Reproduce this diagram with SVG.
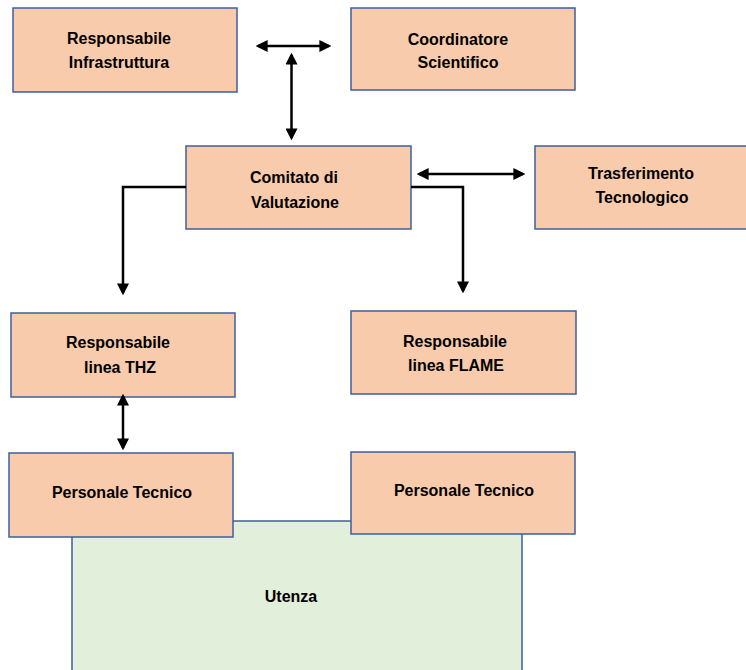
<svg xmlns="http://www.w3.org/2000/svg" width="746" height="670" viewBox="0 0 746 670">
<defs>
<style>
.box{fill:#F8CBAD;stroke:#3E5F9E;stroke-width:1.5}
.green{fill:#E2EFDA;stroke:#3E5F9E;stroke-width:1.5}
.t{font-family:"Liberation Sans",Arial,sans-serif;font-weight:bold;font-size:16px;fill:#000;text-anchor:middle}
.c{fill:none;stroke:#000;stroke-width:2.5}
</style>
<marker id="ah" markerUnits="userSpaceOnUse" markerWidth="12" markerHeight="12" viewBox="0 0 10 10" refX="8" refY="5" orient="auto-start-reverse">
<path d="M0,0 L10,5 L0,10 z" fill="#000"/>
</marker>
</defs>
<rect width="746" height="670" fill="#fff"/>
<g id="n-utenza">
<rect class="green" x="72" y="521" width="450" height="160"/>
<text class="t" x="291" y="602">Utenza</text>
</g>
<g id="n-resp-infra">
<rect class="box" x="13" y="8" width="224" height="84"/>
<text class="t" x="119" y="44">Responsabile</text>
<text class="t" x="119" y="68">Infrastruttura</text>
</g>
<g id="n-coord">
<rect class="box" x="351" y="8" width="224" height="82"/>
<text class="t" x="458" y="45">Coordinatore</text>
<text class="t" x="458" y="68">Scientifico</text>
</g>
<g id="n-comitato">
<rect class="box" x="186" y="146" width="225" height="83"/>
<text class="t" x="294" y="183">Comitato di</text>
<text class="t" x="295" y="208">Valutazione</text>
</g>
<g id="n-trasf">
<rect class="box" x="535" y="146" width="220" height="83"/>
<text class="t" x="641" y="179">Trasferimento</text>
<text class="t" x="642" y="203">Tecnologico</text>
</g>
<g id="n-thz">
<rect class="box" x="11" y="313" width="224" height="84"/>
<text class="t" x="118" y="348">Responsabile</text>
<text class="t" x="120" y="373">linea THZ</text>
</g>
<g id="n-flame">
<rect class="box" x="351" y="311" width="225" height="83"/>
<text class="t" x="455" y="347">Responsabile</text>
<text class="t" x="456" y="371">linea FLAME</text>
</g>
<g id="n-pers-left">
<rect class="box" x="9" y="453" width="224" height="84"/>
<text class="t" x="122" y="498">Personale Tecnico</text>
</g>
<g id="n-pers-right">
<rect class="box" x="351" y="452" width="224" height="82"/>
<text class="t" x="464" y="496">Personale Tecnico</text>
</g>
<g id="connectors">
<line class="c" x1="258" y1="46" x2="329" y2="46" marker-start="url(#ah)" marker-end="url(#ah)"/>
<line class="c" x1="291.5" y1="55" x2="291.5" y2="138" marker-start="url(#ah)" marker-end="url(#ah)"/>
<line class="c" x1="419" y1="174" x2="523" y2="174" marker-start="url(#ah)" marker-end="url(#ah)"/>
<polyline class="c" points="186,187 123,187 123,293" marker-end="url(#ah)"/>
<polyline class="c" points="411,187 463,187 463,291" marker-end="url(#ah)"/>
<line class="c" x1="123" y1="396" x2="123" y2="448" marker-start="url(#ah)" marker-end="url(#ah)"/>
</g>
</svg>
